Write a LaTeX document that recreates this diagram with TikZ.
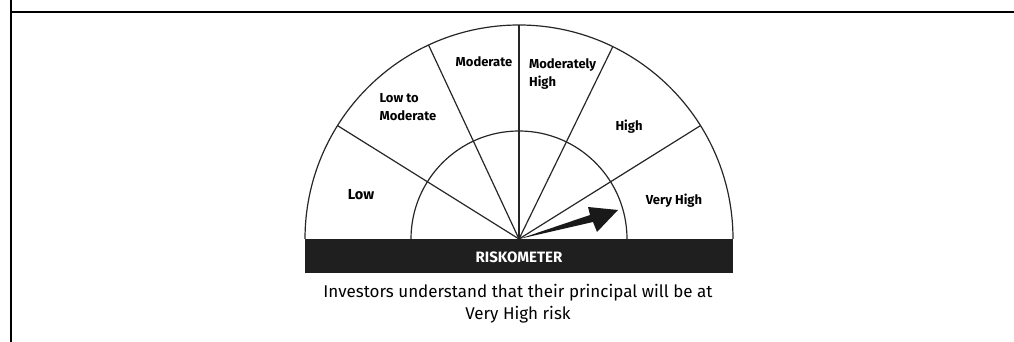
\documentclass[tikz,border=0pt]{standalone}
\usepackage{fontspec}
\setmainfont{Fira Sans}
\tikzset{zone/.style = {font = \bfseries\fontsize{13}{18.3}\selectfont, align = left, inner sep = 0}}
\begin{document}
\begin{tikzpicture}[x = 1pt, y = 1pt, line width = 1.2pt]
    \useasboundingbox (0, 0) rectangle (1014, 342);
    \draw [line width = 1.8pt] (11, 0) -- (11, 342);
    \draw [line width = 1.8pt] (11, 330) -- (1014, 330);

    \coordinate (C) at (519, 103);
    \coordinate (L) at (305, 103);
    \coordinate (IL) at (411, 103);
    \coordinate (BR) at (733, 69);

    \draw [draw = black!85] (L) arc [start angle = 180, end angle = 0, radius = 214];
    \draw [draw = black!85] (IL) arc [start angle = 180, end angle = 0, radius = 108];
    \foreach \a in {148, 115, 90, 64, 32}
      \draw [draw = black!85] (C) -- ++(\a:214);
    \fill [black!88] (L) rectangle (BR);
    \fill [black!90] (C) -- (590, 127) -- (588, 135) -- (618, 132) -- (597, 110) -- (593, 120) -- cycle;

    \node [zone, font = \bfseries\fontsize{14.5}{18}\selectfont] (low) at (361, 147) {Low};
    \node [zone, anchor = west] (lowmod) at (379, 235) {Low to\\Moderate};
    \node [zone] (mod) at (484, 280) {Moderate};
    \node [zone, anchor = west] (modhigh) at (528.5, 268) {Moderately\\High};
    \node [zone] (high) at (629, 215) {High};
    \node [zone] (vhigh) at (674, 141) {Very High};
    \node [zone, text = white, font = \bfseries\fontsize{15}{18}\selectfont] (risk) at (519, 85) {RISKOMETER};
    \node [font = \fontsize{17}{21.7}\selectfont, align = center] (note) at (518, 38)
      {Investors understand that their principal will be at\\Very High risk};
\end{tikzpicture}
\end{document}
